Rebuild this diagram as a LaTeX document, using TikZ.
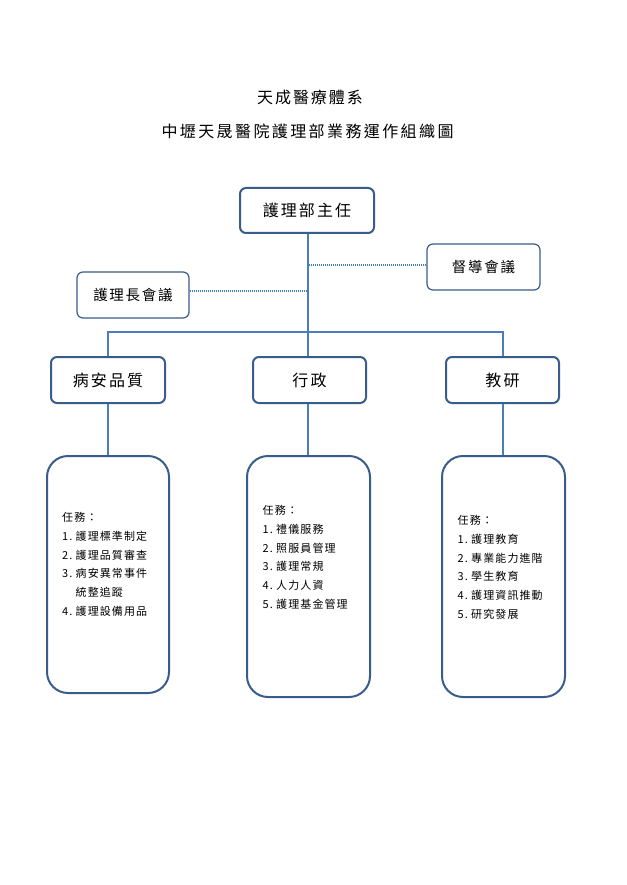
\documentclass[tikz,border=0pt]{standalone}
\usepackage{fontspec}
\newfontfamily\cjk{Noto Sans CJK TC}
\definecolor{linec}{HTML}{4A7EBB}
\definecolor{boxc}{HTML}{385D8A}
\begin{document}
\begin{tikzpicture}[x=1pt,y=-1pt,
  titlef/.style={font={\cjk\fontsize{16}{19}\selectfont\addfontfeature{LetterSpace=12}}},
  titlefb/.style={font={\cjk\fontsize{16}{19}\selectfont\addfontfeature{LetterSpace=15}}},
  mainbox/.style={draw=boxc,line width=2pt,rounded corners=6pt,inner sep=0pt,
    font={\cjk\fontsize{16}{19}\selectfont\addfontfeature{LetterSpace=13}}},
  meetbox/.style={draw=boxc,line width=1.2pt,rounded corners=6pt,inner sep=0pt,
    font={\cjk\fontsize{14.5}{17}\selectfont\addfontfeature{LetterSpace=12}}},
  taskbox/.style={draw=boxc,line width=2pt,rounded corners=21pt,inner sep=0pt},
  tasktext/.style={anchor=north west,inner sep=0pt,align=left,
    font={\cjk\fontsize{11}{18.8}\selectfont\addfontfeature{LetterSpace=10}}},
  conn/.style={draw=linec,line width=2pt},
  dotline/.style={draw=linec,line width=1.1pt,dash pattern=on 1.2pt off 0.8pt}]
\useasboundingbox[fill=white] (0,0) rectangle (626,885);
\newcommand{\nm}[1]{\makebox[13.5pt][l]{#1}}
% titles
\node[titlef] (t1) at (310,97.5) {天成醫療體系};
\node[titlefb] (t2) at (307.5,131.5) {中壢天晟醫院護理部業務運作組織圖};
% top
\node[mainbox,minimum width=134pt,minimum height=45pt] (top) at (307,210.5) {護理部主任};
% meetings
\node[meetbox,minimum width=113pt,minimum height=46pt] (dd) at (483.5,267) {督導會議};
\node[meetbox,minimum width=112pt,minimum height=46pt] (hz) at (133,295) {護理長會議};
% middle level
\node[mainbox,minimum width=114pt,minimum height=46pt] (m1) at (108,380) {病安品質};
\node[mainbox,minimum width=113pt,minimum height=46pt] (m2) at (309.5,380) {行政};
\node[mainbox,minimum width=113pt,minimum height=46pt] (m3) at (502.5,380) {教研};
% task boxes
\node[taskbox,minimum width=122pt,minimum height=237pt] (b1) at (108,574.5) {};
\node[taskbox,minimum width=123pt,minimum height=241pt] (b2) at (308.5,576.5) {};
\node[taskbox,minimum width=123pt,minimum height=241pt] (b3) at (503.5,576.5) {};
% connectors
\coordinate (bus) at (308,332);
\draw[conn] (top.south -| bus) -- (m2.north -| bus);
\draw[conn] (m1.north) |- (bus) -| (m3.north);
\draw[conn] (m1.south) -- (b1.north -| m1.south);
\draw[conn] (m2.south -| bus) -- (b2.north -| bus);
\draw[conn] (m3.south) -- (b3.north -| m3.south);
\draw[dotline] (dd.west |- 0,265) -- (bus |- 0,265);
\draw[dotline] (hz.east |- 0,291) -- (bus |- 0,291);
% task texts
\node[tasktext] (x1) at (62,512) {任務：\\\nm{1.}護理標準制定\\\nm{2.}護理品質審查\\\nm{3.}病安異常事件\\\nm{}統整追蹤\\\nm{4.}護理設備用品};
\node[tasktext] (x2) at (262.5,505) {任務：\\\nm{1.}禮儀服務\\\nm{2.}照服員管理\\\nm{3.}護理常規\\\nm{4.}人力人資\\\nm{5.}護理基金管理};
\node[tasktext] (x3) at (457.5,515) {任務：\\\nm{1.}護理教育\\\nm{2.}專業能力進階\\\nm{3.}學生教育\\\nm{4.}護理資訊推動\\\nm{5.}研究發展};
\end{tikzpicture}
\end{document}
